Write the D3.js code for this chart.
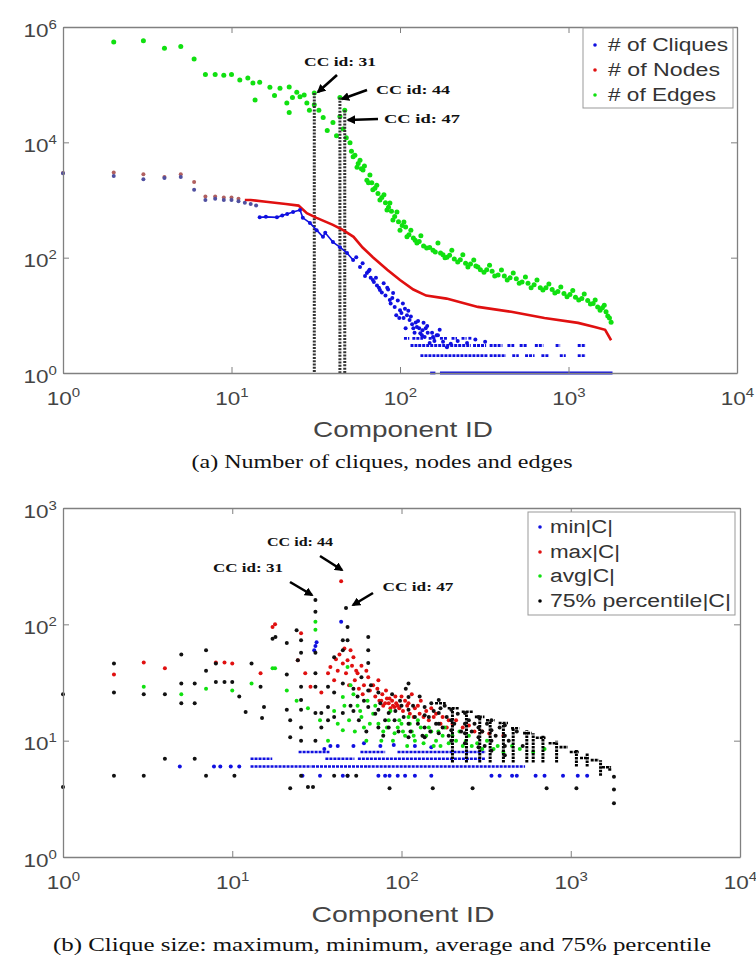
<!DOCTYPE html>
<html><head><meta charset="utf-8">
<script src="https://cdn.jsdelivr.net/npm/d3@7"></script>
<style>body{margin:0;background:#fff}svg{display:block}</style>
</head><body>
<svg id="c" width="756" height="962"></svg>
<script>
// ---------------- DATA ----------------
// Top chart: component ID vs counts
const topXTicks = [1, 10, 100, 1000, 10000];
const topXExp = ["0", "1", "2", "3", "4"];
const topYTicks = [1, 100, 1e4, 1e6];
const topYExp = ["0", "2", "4", "6"];
const topLegend = ["# of Cliques", "# of Nodes", "# of Edges"];

const edgesPts = [[2,5.5e5],[3,5.8e5],[4,4.3e5],[5,4.6e5],[6,2.8e5],[7,1.5e5],[8,1.5e5],[9,1.45e5],[10,1.5e5],
 [11.2,1.2e5],[12.5,1.3e5],[13.4,1.07e5],[13.8,5.4e4],[14.7,1.1e5],[16.9,9e4],[18,6.5e4],[19.4,8.7e4],[21.3,4.8e4],
 [22,9.1e4],[22,3.3e4],[23,6e4],[24.4,7.4e4],[25.5,6.2e4],[27,6.6e4],[28,4.8e4],[29,3.6e4],[31,7.2e4],[31,4.5e4],
 [33,3.6e4],[35,2.7e4],[37,1.6e4],[40,2.2e4],[42,1.3e4],[44,6e4],[44,2.8e4],[46,1.7e4],[47,3.6e4],[48,1.2e4],
 [50.5,9.8e3],[52.7,5600],[55.6,3700],[57.9,4900],[60.3,3300],[63.6,2200],[66.3,2700],[69,1500],[72.8,1800],
 [76,1000],[80.3,1230],[83.7,670],[87.1,890],[90.8,450],[95.9,620],[100,300],[105.5,415],[110,230],[116,300],
 [126,180],[133,240],[144,147],[157,135],[168,180],[180,112],[190,102],[203,135],[220,84],[236,112],[253,69],
 [274,91],[290,69],[315,56],[340,74],[365,48],[400,61],[433,41],[470,54],[510,36],[555,46],[600,30],[650,41],
 [705,27.5],[765,35],[830,24.5],[900,31],[980,21],[1060,27],[1150,18.5],[1240,23.5],[1350,15.8],[1440,18.5],
 [1540,12.3],[1630,15],[1710,9.7],[1790,7.6],
 [51.5,7000],[54,6000],[56.5,4300],[59,3500],[61.5,3900],[65,2000],[68,2000],[71,1600],[74,1300],[78,1100],
 [82,900],[85.5,750],[89,640],[93,520],[98,420],[103,360],[108,340],[113,250],[120,220],[123,200],[130,190],
 [138,160],[150,150],[162,125],[174,120],[185,100],[197,110],[210,95],[228,92],[245,80],[262,78],[282,72],
 [300,62],[327,62],[352,58],[382,50],[416,48],[450,45],[490,43],[530,38],[575,36],[625,34],[680,30],[735,30],
 [800,28],[865,26],[940,24],[1020,23],[1100,20.5],[1200,19.5],[1300,18],[1400,16],[1490,14],[1590,13.5],
 [1670,11.5],[1750,9]];

const nodesEarly = [[1,2950],[2,3000],[3,2800],[4,2500],[5,2800],[6,2050],[7,1150],[8,1150],[9,1100],[10,1100],[11,1050]];
const nodesCurve = [[12,1000],[13,1000],[16,930],[21,850],[25,800],[28,590],[32,490],[40,370],[46,300],[53,230],
 [60,150],[69,102],[84,62],[100,41],[120,28],[143,22],[189,19.5],[290,14],[457,11.5],[720,9],[1140,7.4],
 [1430,6.3],[1650,5.6],[1790,3.7]];

const cliquesEarly = [[1,2900],[2,2600],[3,2300],[4,2400],[5,2500],[6,1500],[7,1000],[8,1050],[9,1000],[10,1000],
 [11,950],[12,900],[13,850],[14,800]];
const cliquesCurve = [[14.7,500],[16,510],[18.6,500],[20,540],[21.4,570],[23.2,620],[25.5,670],[26.5,490],[29.2,400],
 [32,300],[34.9,230],[36,270],[40,186],[44,152],[48.5,120],[52.7,91]];
const cliquesPts = [[55,102],[57.9,69],[60,80],[63.6,54],[66,62],[69,41],[72,45],[76,27.5],[80,36],[84,30],[87,18.5],
 [91,24.5],[95,10],[100,12.3],[104,16],[105,9],[108,6],[112,12],[114,8.3],[118,7],[122,5],[126,6.3],[128,8],
 [132,4.9],[135,4.5],[138,7.4],[142,6],[146,5],[150,3.3],[157,4.2],[160,3.6],[165,4.5],[172,5.6],[180,3.5],
 [190,2.8],[200,3.2],[220,3.6],[250,3.3],[280,3.8],[320,3.5],
 [62,48],[65,58],[67,45],[70,38],[73,33],[75,30],[78,25],[82,22],[85,28],[88,16],[90,20],[93,14],[97,18],
 [99,9],[102,11],[107,13],[110,10],[116,9.5],[120,6],[124,7.5],[130,6],[136,5.5],[140,4.2],[145,6.5],[155,5],
 [168,4.5]];
// runs of consecutive components sharing the same clique count: [fromId, toId, count]
const cliquesRuns = [[107,112,4],[120,135,4],[150,160,4],[175,190,4],[205,215,4],[235,245,4],[258,265,4],
 [117,125,3],[130,260,3],[275,320,3],[345,400,3],[440,470,3],[520,560,3],[640,700,3],[850,880,3],[1150,1250,3],
 [134,330,2],[345,420,2],[470,500,2],[560,620,2],[700,760,2],[900,950,2],[1150,1250,2],
 [153,160,1],[175,1800,1]];

const ccIds = [31, 44, 47];
const ccTopEdges = [7.2e4, 6e4, 3.6e4];
const ccLabels = ["CC id: 31", "CC id: 44", "CC id: 47"];

// Bottom chart: clique sizes
const botYTicks = [1, 10, 100, 1000];
const botYExp = ["0", "1", "2", "3"];
const botLegend = ["min|C|", "max|C|", "avg|C|", "75% percentile|C|"];

const minPts = [[4.9,6],[7.8,6],[8.5,6],[9.8,6],[11,6],[31,65],[30.5,60],[31.5,70],[44,105],[26,5],[33,5],
 [45,5],[48,5],[73,5],[80,5],[85,5],[95,5],[105,5],[120,5],[150,5],[340,5],[380,5],[450,5],[480,5],[620,5],
 [700,5],[900,5],[1100,5],[1250,5],[35,8.5],[38,9],[42,9],[52,9],[60,9.5],[75,9],[90,9.2],[120,9],[150,8.8]];
const minRuns = [[13,29,6],[30,62,6],[64,530,6],[13,17,7],[36,52,7],[56,310,7],[25,37,8],[58,79,8],[96,310,8]];

const maxPts = [[2,37],[3,47],[4,42],[8,47],[9,47],[10,46],[14.7,38],[17.3,95],[17.9,100],[24.4,49],[25.5,84],
 [27,38],[29,29],[33.6,26],[36.8,38],[38,43],[40,33],[42,40],[44,235],[45,46],[46,62],[48,49],[50,60],[52,52],
 [54,40],[55,38],[58,44],[60,30],[63.6,35],[68,30],[73,33],[74,22],[76,22],[78,20],[80,21],[82,23],[84,21],
 [86,19],[88,22],[91,19.5],[93,21],[95,20],[100,24],[105,22],[110,21],[115,25],[120,19],[125,20],[130,22],
 [140,18],[150,19],[160,17],[175,16],[190,15],[210,15],[250,13.5],[300,12],
 [41,50],[43,55],[47,38],[49,30],[51,44],[53,33],[56,28],[59,25],[62,40],[65,27],[70,24],[72,28],[77,25],
 [81,27],[85,23],[89,20],[92,24],[97,19],[102,18],[108,20],[112,17],[118,16],[128,17],[135,16],[145,15],
 [155,16],[170,14],[185,13],[200,14],[230,13],[270,12],[330,11.5],[400,11]];

const avgPts = [[3,29],[5,25],[7,28],[10,27],[13,31],[17.3,42],[17.9,42],[21,27],[24,22],[28,19],[31,105],[31,90],
 [33,15],[36.8,10],[40,18],[42,14],[45,23.7],[45,12.3],[48,43],[50,30],[52,25],[55,20],[58,16],[60,13],[63,22],
 [68,17],[73,14],[78,12],[84,15],[91,11.6],[95,13],[100,14],[105,11],[110,16],[115,12],[120,10],[130,13],
 [140,11],[150,12],[160,10],[175,11],[190,9.5],[210,10],[230,9],[260,9],[300,8.5],[350,8.5],[400,8],
 [46,20],[49,15],[53,12],[57,18],[62,10],[65,14],[70,20],[76,10],[82,13],[86,18],[89,10],[97,15],[102,12],
 [108,9],[112,14],[118,11],[125,15],[135,9.5],[145,13],[155,9],[165,12],[170,9],[180,13],[200,11],[220,12],
 [240,10],[250,11],[280,9.5],[320,10],[370,9],[450,9],[500,8.5],[600,8],[700,8.5]];

const p75Pts = [[1,25],[1,4],[2,46],[2,26],[2,5],[3,25],[3,5],[4,25],[4,7],[5,55],[5,31],[5,21],[6,31],[6,21],[6,7],
 [7,60],[7,40],[7,5],[8,46],[8,32],[9,32],[10,32],[10.3,5],[11,24],[12,17.6],[13,46],[14.7,29],[15.4,19.5],
 [15,15.7],[17.3,75],[18,78],[21,69],[21,37],[21,18.4],[22,10.7],[22,3.9],[22,15],[24,89],[24.4,49],[25.5,73],
 [25.5,57],[25.5,29],[25.5,22.4],[25.5,18.4],[25.5,13],[25.5,10],[25.5,5],[28,4],[30,4],[31,162],[31,128],
 [31,57],[31,38],[31,29],[31,17.3],[31,10],[33.6,17.3],[33.6,13],[36.8,29],[36.8,19.5],[36.8,15],[40,52],[40,26],
 [40,16],[40,5],[45,73],[45,60],[45,31],[45,17.3],[47,138],[48,95],[48,73],[48,5],[52,18],[54,5],[55,24],[58,35],
 [63.6,78],[63.6,60],[63.6,46.5],[63.6,27],[63.6,19.5],[73,26],[73,18.4],[73,13],[84,17.3],[84,13],[85,3.9],
 [91,15],[100,20],[110,31],[110,23.7],[110,18.4],[110,14],[110,10.7],[120,16],[137,19.5],[137,16.5],[137,13],
 [137,10.7],[150,21],[153,3.9],[166,22.4],[166,17.3],[166,14],[166,11.6],[180,20],[197,18.4],[197,15],
 [197,12.3],[197,10],[237,17.3],[237,14],[237,11.6],[237,9.5],[263,3.9],[285,16],[285,13],[285,10.7],[285,8.8],
 [340,15],[340,12.3],[340,10],[340,8.2],[408,13.6],[408,11],[408,9],[408,7.5],[720,3.9],[1080,3.9],
 [1800,4.9],[1800,3.8],[1800,2.9],
 [50,20],[52,28],[56,15],[60,22],[62,12],[66,30],[70,17],[75,21],[78,11],[80,15],[88,25],[92,18],[96,12],
 [98,22],[103,16],[106,28],[113,12],[117,20],[125,14],[128,24],[133,11],[145,16],[148,12],[155,18],[160,14],
 [170,19],[175,13],[185,16],[190,11],[205,14],[215,17],[225,12],[250,15],[260,12],[270,14],[300,12],[310,9],
 [320,14],[360,11],[380,13],[430,10],[480,12],[520,9]];
// stacked ranges of 75%-percentile values for the tail: [id, low, high]
const p75Stripes = [[200,6.5,19],[242,6.5,17.7],[290,6.5,16],[334,6.5,15],[400,6.5,14.2],[457,6.5,13],
 [550,6.5,12.3],[600,6.5,11.6],[685,6.5,11],[825,6.5,10],[1080,6,8.5],[1250,6,7.8],[1500,5,6.8],[1700,5.5,6]];
// upper envelope runs: [fromId, toId, value]
const p75Runs = [[160,180,21],[190,215,19],[230,260,17.7],[275,305,16],[320,350,15],[380,420,14.2],[450,490,12.8],
 [530,580,11.6],[630,700,10.6],[750,820,9.5],[870,950,8.8],[1000,1100,8],[1150,1260,7.1],[1330,1450,6.8],
 [1550,1700,5.9]];

// ---------------- DRAWING ----------------
const svg = d3.select("#c");
const SANS = "'Liberation Sans', Arial, Helvetica, sans-serif";
const SERIF = "'Liberation Serif', 'Times New Roman', serif";
const STRETCH = 1.25;
const COL = {blue:"#1010e0", red:"#e01010", green:"#10e010", black:"#000"};

svg.append("defs").append("marker").attr("id","ah").attr("viewBox","0 0 10 10")
  .attr("refX",8).attr("refY",5).attr("markerWidth",3.4).attr("markerHeight",3.4).attr("orient","auto")
  .append("path").attr("d","M0,0L10,5L0,10z").attr("fill","#000");

function axes(g, x, y, xT, xE, yT, yE) {
  const [x0,x1] = x.range(), [y1,y0] = y.range();
  const style = s => s.attr("font-size",18).attr("font-family",SANS).attr("color","#808080");
  const fmtSup = (sel, exps, horiz) => {
    sel.selectAll(".tick text").each(function(d,i){
      const t = d3.select(this);
      t.text(null).attr("fill","#444").attr("transform",`scale(${STRETCH},1)`);
      if (!horiz) t.attr("dy","0.5em");
      t.append("tspan").text("10");
      t.append("tspan").attr("font-size",12).attr("dy",-8).text(exps[i]);
    });
  };
  const gb = g.append("g").attr("transform",`translate(0,${y1})`)
    .call(d3.axisBottom(x).tickValues(xT).tickSize(-6).tickSizeOuter(0).tickPadding(19)).call(style);
  fmtSup(gb, xE, true);
  const gl = g.append("g").attr("transform",`translate(${x0},0)`)
    .call(d3.axisLeft(y).tickValues(yT).tickSize(-6).tickSizeOuter(0).tickPadding(5)).call(style);
  fmtSup(gl, yE, false);
  g.append("g").attr("transform",`translate(0,${y0})`)
    .call(d3.axisTop(x).tickValues(xT).tickSize(-6).tickSizeOuter(0).tickFormat(()=>"")).call(style);
  g.append("g").attr("transform",`translate(${x1},0)`)
    .call(d3.axisRight(y).tickValues(yT).tickSize(-6).tickSizeOuter(0).tickFormat(()=>"")).call(style);
  g.selectAll(".domain").attr("stroke-width",1.3);
}

function label(g, x, y, str, size, len, family, weight, fill) {
  const t = g.append("text").attr("x",x).attr("y",y).attr("text-anchor","middle")
    .attr("font-size",size).attr("font-family",family).attr("fill",fill||"#222").text(str);
  if (weight) t.attr("font-weight",weight);
  if (len) t.attr("textLength",len).attr("lengthAdjust","spacingAndGlyphs");
  return t;
}

function dots(g, data, x, y, color, r) {
  g.append("g").selectAll("circle").data(data).join("circle")
    .attr("cx",d=>x(d[0])).attr("cy",d=>y(d[1])).attr("r",r).attr("fill",color);
}
function runs(g, data, x, y, color, w, dash) {
  g.append("g").selectAll("line").data(data).join("line")
    .attr("x1",d=>x(d[0])-1).attr("x2",d=>x(d[1])+1).attr("y1",d=>y(d[2])).attr("y2",d=>y(d[2]))
    .attr("stroke",color).attr("stroke-width",w)
    .attr("stroke-dasharray",d=>(dash===false || (dash==="solid1" && d[2]===1)) ? null : "3,1");
}

// ===== TOP CHART =====
const tx = d3.scaleLog().domain([1,1e4]).range([63,737]);
const ty = d3.scaleLog().domain([1,1e6]).range([373,27]);
const gt = svg.append("g");
const topPlot = gt.append("g");

dots(topPlot, edgesPts, tx, ty, COL.green, 2.5);
// cc vertical markers
topPlot.append("g").selectAll("line").data(ccIds).join("line")
  .attr("x1",d=>tx(d)).attr("x2",d=>tx(d)).attr("y1",(d,i)=>ty(ccTopEdges[i])).attr("y2",ty(1))
  .attr("stroke","#333").attr("stroke-width",3).attr("stroke-dasharray","2,1.3");
// nodes
topPlot.append("path").datum(nodesCurve)
  .attr("d",d3.line().x(d=>tx(d[0])).y(d=>ty(d[1]))).attr("fill","none")
  .attr("stroke",COL.red).attr("stroke-width",2.6);
dots(topPlot, nodesEarly, tx, ty, "#b06060", 2);
// cliques
topPlot.append("path").datum(cliquesCurve)
  .attr("d",d3.line().x(d=>tx(d[0])).y(d=>ty(d[1]))).attr("fill","none")
  .attr("stroke",COL.blue).attr("stroke-width",1.6);
dots(topPlot, cliquesEarly, tx, ty, "#5050a0", 2);
dots(topPlot, cliquesCurve, tx, ty, COL.blue, 2);
dots(topPlot, cliquesPts, tx, ty, COL.blue, 2);
runs(topPlot, cliquesRuns, tx, ty, COL.blue, 2.8, "solid1");

axes(gt, tx, ty, topXTicks, topXExp, topYTicks, topYExp);

// annotations top
const annTop = [
  {t:ccLabels[0], x:340, y:66, len:72, a:[337,75,318,92]},
  {t:ccLabels[1], x:413, y:94, len:74, a:[367,90,342,99]},
  {t:ccLabels[2], x:422, y:123, len:76, a:[378,119,348,120]}
];
annTop.forEach(a=>{
  label(gt, a.x, a.y, a.t, 13, a.len, SERIF, "bold", "#111");
  gt.append("line").attr("x1",a.a[0]).attr("y1",a.a[1]).attr("x2",a.a[2]).attr("y2",a.a[3])
    .attr("stroke","#000").attr("stroke-width",2.6).attr("marker-end","url(#ah)");
});

// legend top
const lt = gt.append("g");
lt.append("rect").attr("x",583).attr("y",28).attr("width",150).attr("height",80)
  .attr("fill","#fff").attr("stroke","#999").attr("stroke-width",1);
const topLegCols = [COL.blue, COL.red, COL.green];
const topLegLens = [120, 112, 108];
topLegend.forEach((s,i)=>{
  const yy = 45 + i*25;
  lt.append("circle").attr("cx",595).attr("cy",yy).attr("r",1.8).attr("fill",topLegCols[i]);
  lt.append("text").attr("x",608).attr("y",yy+6).attr("font-size",18).attr("font-family",SANS)
    .attr("fill","#333").attr("textLength",topLegLens[i]).attr("lengthAdjust","spacingAndGlyphs").text(s);
});

label(gt, 403, 437, "Component ID", 22, 180, SANS, null, "#444");
label(gt, 382, 468, "(a) Number of cliques, nodes and edges", 18, 381, SERIF, null, "#111");

// ===== BOTTOM CHART =====
const bx = d3.scaleLog().domain([1,1e4]).range([63,740]);
const by = d3.scaleLog().domain([1,1e3]).range([857,508]);
const gb = svg.append("g");
const botPlot = gb.append("g");

runs(botPlot, minRuns, bx, by, COL.blue, 2.6);
dots(botPlot, minPts, bx, by, COL.blue, 2);
dots(botPlot, maxPts, bx, by, COL.red, 2);
dots(botPlot, avgPts, bx, by, COL.green, 2);
botPlot.append("g").selectAll("line").data(p75Stripes).join("line")
  .attr("x1",d=>bx(d[0])).attr("x2",d=>bx(d[0])).attr("y1",d=>by(d[1])).attr("y2",d=>by(d[2]))
  .attr("stroke",COL.black).attr("stroke-width",3).attr("stroke-dasharray","2.5,1");
runs(botPlot, p75Runs, bx, by, COL.black, 2.6);
dots(botPlot, p75Pts, bx, by, "#111", 2);

axes(gb, bx, by, topXTicks, topXExp, botYTicks, botYExp);

const annBot = [
  {t:ccLabels[0], x:248, y:572, len:70, a:[290,582,312,595]},
  {t:ccLabels[1], x:300, y:546, len:66, a:[320,556,342,570]},
  {t:ccLabels[2], x:418, y:591, len:71, a:[373,593,353,605]}
];
annBot.forEach(a=>{
  label(gb, a.x, a.y, a.t, 13, a.len, SERIF, "bold", "#111");
  gb.append("line").attr("x1",a.a[0]).attr("y1",a.a[1]).attr("x2",a.a[2]).attr("y2",a.a[3])
    .attr("stroke","#000").attr("stroke-width",2.6).attr("marker-end","url(#ah)");
});

const lb = gb.append("g");
lb.append("rect").attr("x",528).attr("y",512).attr("width",207).attr("height",103)
  .attr("fill","#fff").attr("stroke","#999").attr("stroke-width",1);
const botLegCols = [COL.blue, COL.red, COL.green, COL.black];
const botLegLens = [63, 70, 65, 181];
const botLegY = [527, 552, 576, 601];
botLegend.forEach((s,i)=>{
  lb.append("circle").attr("cx",540).attr("cy",botLegY[i]).attr("r",1.8).attr("fill",botLegCols[i]);
  lb.append("text").attr("x",550).attr("y",botLegY[i]+6).attr("font-size",18).attr("font-family",SANS)
    .attr("fill","#333").attr("textLength",botLegLens[i]).attr("lengthAdjust","spacingAndGlyphs").text(s);
});

label(gb, 403, 922, "Component ID", 22, 183, SANS, null, "#444");
label(gb, 382, 951, "(b) Clique size: maximum, minimum, average and 75% percentile", 18, 658, SERIF, null, "#111");
</script>
</body></html>
